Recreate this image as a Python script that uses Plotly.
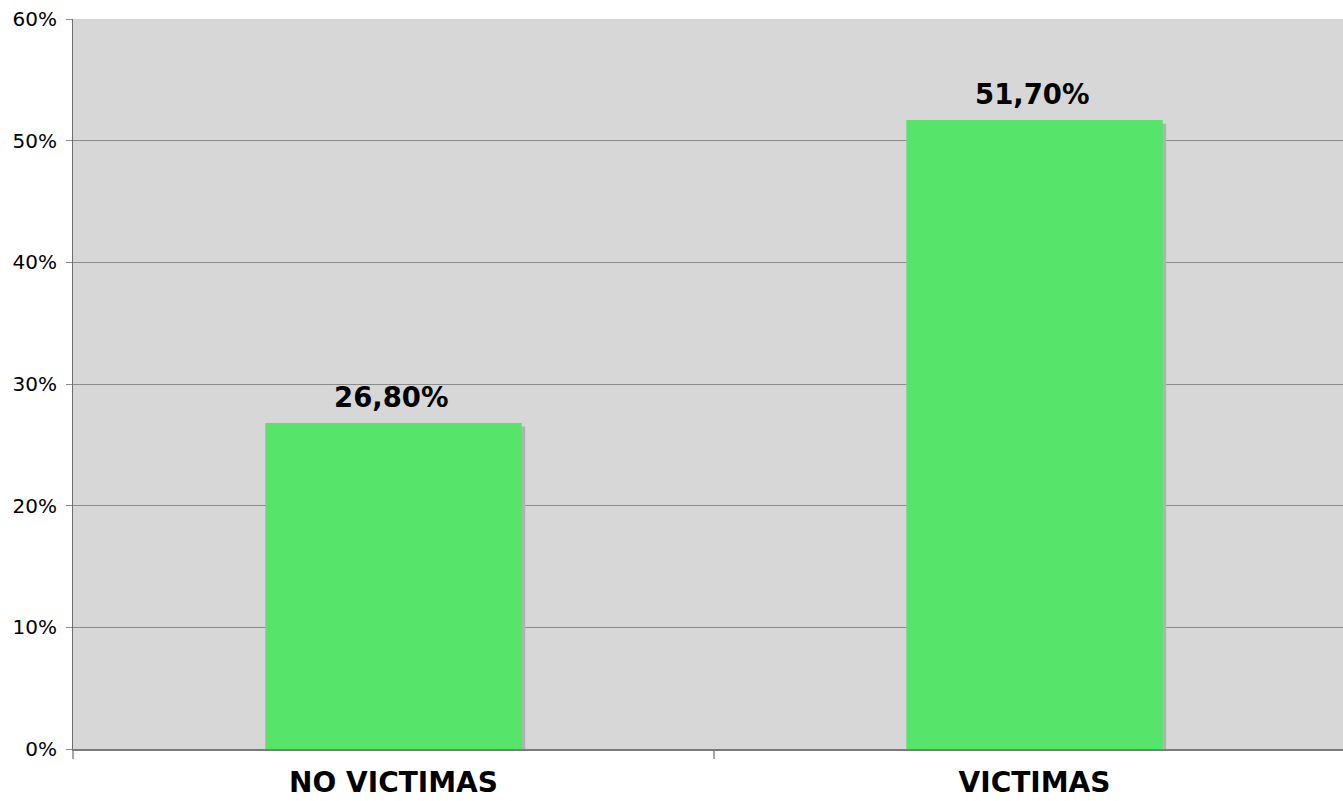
import plotly.graph_objects as go

# Chart data
categories = ["NO VICTIMAS", "VICTIMAS"]
values = [0.268, 0.517]
y_ticks = [0.0, 0.1, 0.2, 0.3, 0.4, 0.5, 0.6]
y_tick_labels = ["0%", "10%", "20%", "30%", "40%", "50%", "60%"]

BAR_COLOR = "#56E46A"
SHADOW_COLOR = "#B2B2B2"
PLOT_BG = "#D7D7D7"

bar_width = 0.40
# small drop-shadow offset (data units)
shadow_dx = 0.0055
shadow_dy = 0.003

labels = [f"{v * 100:.2f}%".replace(".", ",") for v in values]

fig = go.Figure()

fig.add_trace(go.Bar(
    x=categories,
    y=[v - shadow_dy for v in values],
    width=bar_width,
    offset=-bar_width / 2 + shadow_dx,
    marker=dict(color=SHADOW_COLOR, line=dict(width=0)),
    hoverinfo="skip",
    showlegend=False,
))

fig.add_trace(go.Bar(
    x=categories,
    y=values,
    width=bar_width,
    offset=-bar_width / 2,
    marker=dict(color=BAR_COLOR, line=dict(width=0)),
    showlegend=False,
))

for cat, v, lab in zip(categories, values, labels):
    fig.add_annotation(
        x=cat, y=v, text=f"<b>{lab}</b>",
        showarrow=False, yanchor="bottom", yshift=8, xshift=-2,
        font=dict(family="DejaVu Sans", size=27.5, color="#000000"),
    )

fig.update_layout(
    width=1343, height=801,
    margin=dict(l=73, r=0, t=19, b=52),
    paper_bgcolor="#FFFFFF",
    plot_bgcolor=PLOT_BG,
    barmode="overlay",
    font=dict(family="DejaVu Sans", color="#000000"),
)

fig.update_xaxes(
    type="category",
    range=[-0.5, -0.5 + 1270 / 641],
    tickson="boundaries",
    ticks="outside", ticklen=8, tickcolor="#A8A8A8", tickwidth=1.5,
    showline=True, linecolor="#7A7A7A", linewidth=2,
    showgrid=False, zeroline=False,
    tickfont=dict(family="DejaVu Sans", size=28, color="#000000", weight="bold"),
    ticklabelstandoff=7,
    automargin=False,
)

fig.update_yaxes(
    range=[0, 0.6],
    tickvals=y_ticks, ticktext=y_tick_labels,
    ticks="outside", ticklen=6, tickcolor="#8A8A8A",
    showline=True, linecolor="#6E6E6E", linewidth=1,
    showgrid=True, gridcolor="#8C8C8C", gridwidth=1,
    zeroline=False,
    tickfont=dict(family="DejaVu Sans", size=20, color="#000000"),
    ticklabelstandoff=5,
    automargin=False,
)

fig.write_html("out.html")
